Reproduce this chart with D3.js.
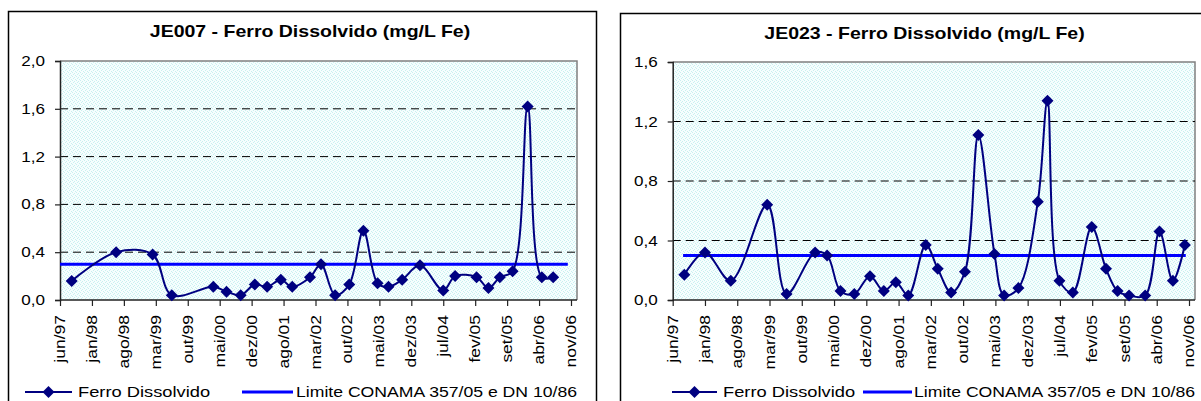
<!DOCTYPE html>
<html><head><meta charset="utf-8">
<script src="https://cdn.jsdelivr.net/npm/d3@7"></script>
<style>
body{margin:0;background:#fff}
svg{display:block}
text{font-family:"Liberation Sans",Arial,Helvetica,sans-serif;fill:#000}
</style>
</head><body>
<svg id="c" width="1201" height="401"></svg>
<script>
// ---------- DATA ----------
const xTickLabels = ["jun/97","jan/98","ago/98","mar/99","out/99","mai/00","dez/00","ago/01","mar/02","out/02","mai/03","dez/03","jul/04","fev/05","set/05","abr/06","nov/06"];
const monthsPerTick = 7; // months since jun/97 between labels

const je007Months = [2.56,12.3,20.3,24.5,33.6,36.5,39.6,42.7,45.4,48.4,50.9,54.8,57.2,60.3,63.4,66.5,69.6,72.0,75.0,78.9,84.0,86.6,91.3,93.9,96.4,99.2,102.5,105.6,108.1];
const je007Values = [0.16,0.40,0.38,0.04,0.11,0.07,0.04,0.13,0.11,0.17,0.11,0.19,0.30,0.04,0.13,0.58,0.14,0.11,0.17,0.29,0.08,0.20,0.19,0.10,0.19,0.24,1.62,0.19,0.19];
const je007LimitMonths = [0, 111.3];

const je023Months = [2.52,7.0,12.6,20.5,24.7,30.9,33.5,36.4,39.4,42.8,45.8,48.4,51.1,54.9,57.5,60.4,63.4,66.3,69.8,71.9,75.0,79.2,81.3,83.9,86.8,90.9,94.0,96.5,99.0,102.5,105.6,108.5,111.1];
const je023Values = [0.17,0.32,0.13,0.64,0.04,0.32,0.30,0.06,0.04,0.16,0.06,0.12,0.03,0.37,0.21,0.05,0.19,1.11,0.31,0.03,0.08,0.66,1.34,0.13,0.05,0.49,0.21,0.06,0.03,0.03,0.46,0.13,0.37];
const je023LimitMonths = [2.25, 111.3];

const limitValue = 0.3;
const yTicks007 = [0,0.4,0.8,1.2,1.6,2.0];
const yTicks023 = [0,0.4,0.8,1.2,1.6];

const titles = ["JE007 - Ferro Dissolvido (mg/L Fe)", "JE023 - Ferro Dissolvido (mg/L Fe)"];
const legendLabels = ["Ferro Dissolvido", "Limite CONAMA 357/05 e DN 10/86"];

// ---------- DRAW ----------
const svg = d3.select("#c");
const defs = svg.append("defs");
const pat = defs.append("pattern").attr("id","dots").attr("patternUnits","userSpaceOnUse")
  .attr("width",4).attr("height",4);
pat.append("rect").attr("width",4).attr("height",4).attr("fill","#f6fefe");
[[0,0],[2,1],[1,2],[3,3]].forEach(([a,b])=>pat.append("rect").attr("x",a).attr("y",b).attr("width",1).attr("height",1).attr("fill","#c8f0f0"));

const SX = 1.22;
function sText(g, x, y, rot, str, size, anchor, weight, dy, sx){
  const t = g.append("text")
    .attr("transform", `translate(${x},${y}) rotate(${rot}) scale(${sx||SX},1)`)
    .attr("font-size", size).attr("text-anchor", anchor||"start")
    .text(str);
  if (weight) t.attr("font-weight", weight);
  if (dy) t.attr("dy", dy);
  return t;
}

const fmt = v => d3.format(".1f")(v).replace(".", ",");
const diamond = "M0,-6L6,0L0,6L-6,0Z";

function drawChart(cfg){
  const g = svg.append("g");
  g.append("rect").attr("x",cfg.box[0]).attr("y",cfg.box[1]).attr("width",cfg.box[2]).attr("height",cfg.box[3])
    .attr("fill","#fff").attr("stroke","#000").attr("stroke-width",1.5);
  const x = d3.scaleLinear().domain([0, monthsPerTick*(xTickLabels.length-1)]).range([cfg.left, cfg.tickEnd]);
  const y = d3.scaleLinear().domain([0, cfg.yMax]).range([cfg.bottom, cfg.top]);
  g.append("rect").attr("x",cfg.left).attr("y",cfg.top).attr("width",cfg.right-cfg.left).attr("height",cfg.bottom-cfg.top)
    .attr("fill","url(#dots)");
  g.append("path").attr("d",`M${cfg.left},${cfg.top}H${cfg.right}V${cfg.bottom}`).attr("fill","none")
    .attr("stroke","#808080").attr("stroke-width",1.5);
  g.selectAll(".grid").data(cfg.yTicks.filter(v=>v>0 && v<cfg.yMax)).enter().append("line")
    .attr("x1",cfg.left).attr("x2",cfg.right).attr("y1",d=>y(d)).attr("y2",d=>y(d))
    .attr("stroke","#000").attr("stroke-width",1).attr("stroke-dasharray","8,5");
  const ya = g.append("g").attr("transform",`translate(${cfg.left},0)`)
    .call(d3.axisLeft(y).tickValues(cfg.yTicks).tickSize(5).tickFormat(""));
  ya.select(".domain").attr("stroke","#222").attr("stroke-width",1.5);
  ya.selectAll(".tick line").attr("stroke","#222").attr("stroke-width",1.2);
  cfg.yTicks.forEach(v=>sText(g, cfg.left-15, y(v), 0, fmt(v), 14, "end", null, "0.36em"));
  const xa = g.append("g").attr("transform",`translate(0,${cfg.bottom})`)
    .call(d3.axisBottom(x).tickValues(xTickLabels.map((_,i)=>i*monthsPerTick)).tickSize(6).tickFormat(""));
  xa.select(".domain").attr("d",`M${cfg.left},0H${cfg.right}`).attr("stroke","#222").attr("stroke-width",1.5);
  xa.selectAll(".tick line").attr("stroke","#222").attr("stroke-width",1.2);
  xTickLabels.forEach((lab,i)=>sText(g, x(i*monthsPerTick), cfg.bottom+15, -90, lab, 14, "end", null, "0.36em", 1.25));
  g.append("line").attr("x1",x(cfg.limitMonths[0])).attr("x2",x(cfg.limitMonths[1]))
    .attr("y1",y(limitValue)).attr("y2",y(limitValue)).attr("stroke","#0000ff").attr("stroke-width",3);
  const pts = cfg.months.map((m,i)=>[m, cfg.values[i]]);
  const line = d3.line().x(d=>x(d[0])).y(d=>y(d[1])).curve(d3.curveCatmullRom.alpha(0.5));
  g.append("path").attr("d",line(pts)).attr("fill","none").attr("stroke","#000080").attr("stroke-width",2);
  g.selectAll(".pt").data(pts).enter().append("path").attr("d",diamond)
    .attr("transform",d=>`translate(${x(d[0])},${y(d[1])})`).attr("fill","#000080");
  sText(g, cfg.titleX, cfg.titleY, 0, cfg.title, 16, "middle", "bold");
  const ly = 392;
  const L = cfg.legend;
  g.append("line").attr("x1",L[0]).attr("x2",L[1]).attr("y1",ly).attr("y2",ly).attr("stroke","#000080").attr("stroke-width",2);
  g.append("path").attr("d",diamond).attr("transform",`translate(${(L[0]+L[1])/2},${ly})`).attr("fill","#000080");
  sText(g, L[2], ly, 0, legendLabels[0], 15, "start", null, "0.36em");
  g.append("line").attr("x1",L[3]).attr("x2",L[4]).attr("y1",ly).attr("y2",ly).attr("stroke","#0000ff").attr("stroke-width",3);
  sText(g, L[5], ly, 0, legendLabels[1], 15, "start", null, "0.36em", 1.175);
}

drawChart({box:[8.5,11.5,588,400], left:60, right:577, tickEnd:571, top:61, bottom:300, yMax:2.0, yTicks:yTicks007,
  months:je007Months, values:je007Values, limitMonths:je007LimitMonths, title:titles[0], titleX:310, titleY:36.5,
  legend:[25,72,78,242,293,296]});
drawChart({box:[620.5,13.5,600,400], left:672.7, right:1195, tickEnd:1189, top:62, bottom:300, yMax:1.6, yTicks:yTicks023,
  months:je023Months, values:je023Values, limitMonths:je023LimitMonths, title:titles[1], titleX:924.5, titleY:39,
  legend:[672,717,723,863,912,914]});
</script>
</body></html>
